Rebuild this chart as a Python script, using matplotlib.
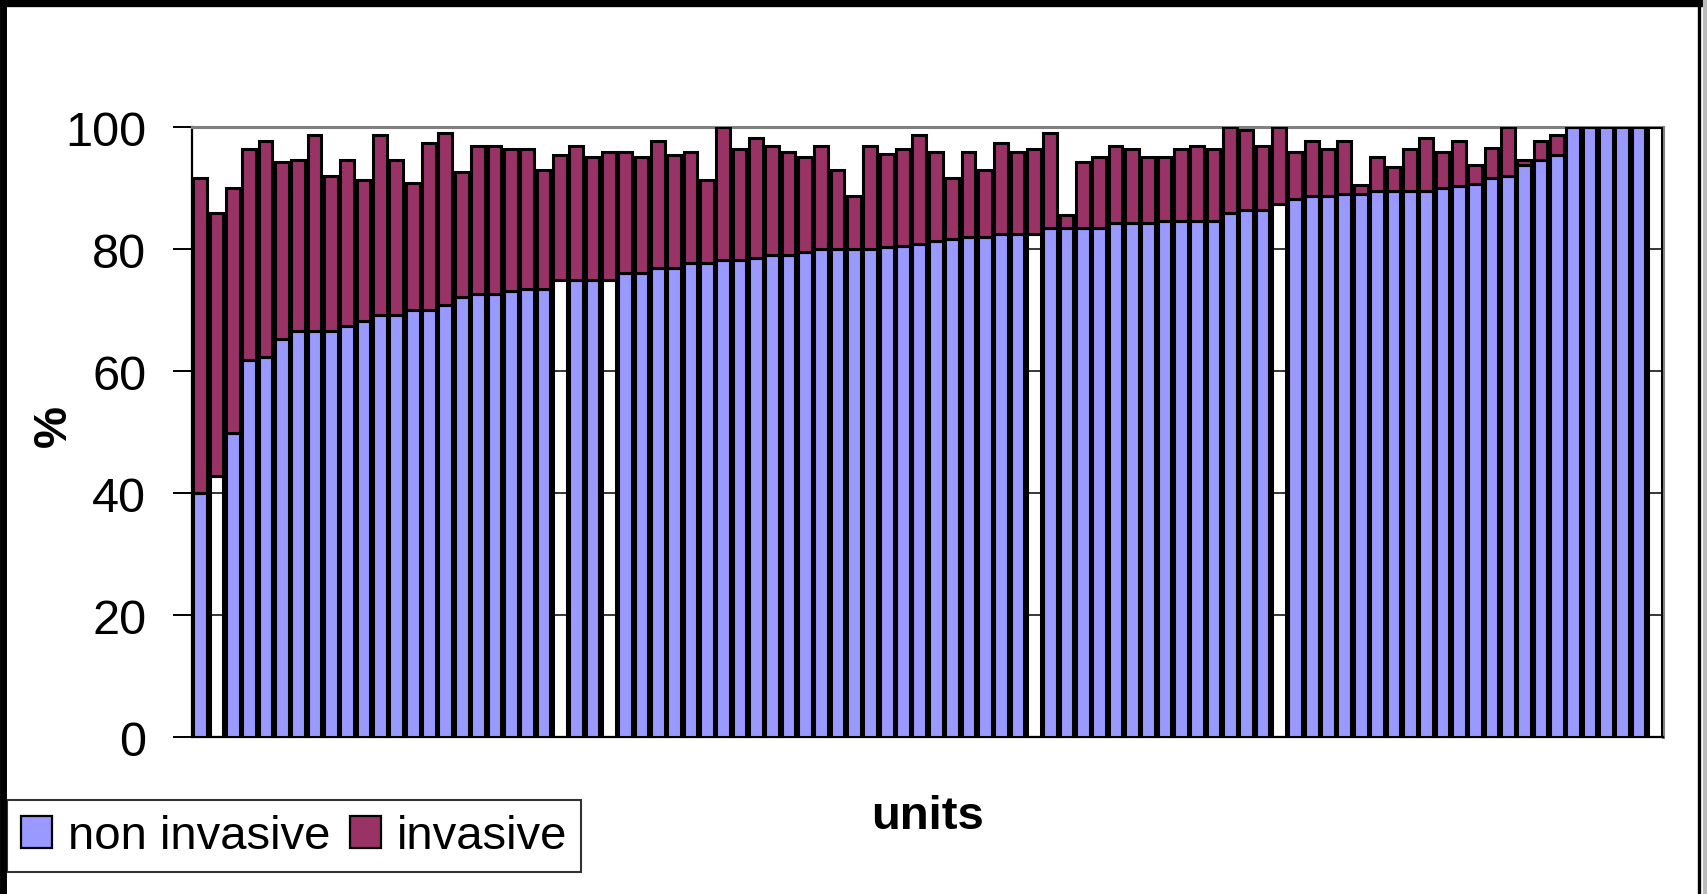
import numpy as np
import matplotlib
matplotlib.use("Agg")
import matplotlib.pyplot as plt
from matplotlib.lines import Line2D
from matplotlib.patches import Patch

plt.rcParams['font.family'] = ['Liberation Sans', 'DejaVu Sans']

# Share of patients per unit (%), sorted by non invasive share
units = np.arange(1, 91)
non_invasive = [40.0, 42.9, 49.9, 61.9, 62.3, 65.3, 66.7, 66.7, 66.7, 67.5,
                68.3, 69.3, 69.3, 70.1, 70.1, 70.9, 72.2, 72.7, 72.7, 73.2,
                73.5, 73.5, 74.9, 74.9, 74.9, 74.9, 76.1, 76.1, 77.0, 77.0,
                77.8, 77.8, 78.2, 78.2, 78.6, 79.0, 79.0, 79.5, 80.0, 80.0,
                80.0, 80.0, 80.4, 80.6, 80.9, 81.3, 81.7, 82.1, 82.1, 82.5,
                82.5, 82.5, 83.5, 83.5, 83.5, 83.5, 84.3, 84.3, 84.3, 84.6,
                84.6, 84.6, 84.6, 86.0, 86.5, 86.5, 87.5, 88.3, 88.7, 88.7,
                89.1, 89.1, 89.5, 89.5, 89.5, 89.5, 90.0, 90.4, 90.7, 91.7,
                92.1, 93.9, 94.6, 95.5, 100, 100, 100, 100, 100, 100]
invasive = [51.7, 43.1, 40.1, 34.6, 35.4, 29.0, 28.0, 32.0, 25.4, 27.2,
            23.0, 29.4, 25.4, 20.8, 27.3, 28.2, 20.4, 24.2, 24.2, 23.3,
            23.0, 19.5, 20.6, 22.0, 20.2, 21.1, 19.9, 19.0, 20.7, 18.5,
            18.2, 13.6, 21.8, 18.3, 19.6, 17.9, 17.0, 15.7, 16.9, 13.0,
            8.7, 16.9, 15.3, 15.9, 17.8, 14.7, 10.0, 13.9, 10.9, 14.9,
            13.5, 14.0, 15.6, 2.2, 10.9, 11.7, 12.6, 12.2, 10.8, 10.5,
            11.9, 12.3, 11.9, 14.0, 13.0, 10.4, 12.5, 7.7, 9.1, 7.8,
            8.6, 1.4, 5.6, 4.0, 7.0, 8.7, 6.0, 7.3, 3.2, 4.9,
            7.9, 0.8, 3.1, 3.2, 0, 0, 0, 0, 0, 0]
# units whose non invasive bar is left unfilled
unfilled_units = [2, 23, 26, 52, 67, 90]

blue = '#9999ff'
maroon = '#993366'

fig = plt.figure(figsize=(17.08, 8.95), dpi=100)
ax = fig.add_axes([0.1124, 0.1749, 0.8613, 0.6817])

x = np.arange(len(units))
face = ['none' if u in unfilled_units else blue for u in units]
ax.bar(x, non_invasive, width=0.84, color=face, edgecolor='black',
       linewidth=2.2, zorder=3)
ax.bar(x, invasive, bottom=non_invasive, width=0.84, color=maroon,
       edgecolor='black', linewidth=2.2, zorder=3)

ax.set_xlim(-0.5, len(units) - 0.5)
ax.set_ylim(0, 100)
ax.set_yticks(np.arange(0, 101, 20))
ax.set_xticks([])
ax.tick_params(axis='y', labelsize=35, length=14, width=1.4, pad=19,
               direction='out')
ax.yaxis.grid(True, color='black', linewidth=1.1, zorder=0)
ax.set_axisbelow(True)

ax.spines['left'].set_color('black')
ax.spines['left'].set_linewidth(1.6)
ax.spines['bottom'].set_color('black')
ax.spines['bottom'].set_linewidth(1.6)
ax.spines['top'].set_color('#808080')
ax.spines['top'].set_linewidth(2.2)
ax.spines['right'].set_color('#808080')
ax.spines['right'].set_linewidth(2.2)

fig.text(54 / 1708, 1 - 426 / 895, '%', rotation=90, fontsize=34,
         fontweight='bold', ha='center', va='center')
fig.text(928 / 1708, 1 - 817 / 895, 'units', fontsize=34,
         fontweight='bold', ha='center', va='center')

handles = [Patch(facecolor=blue, edgecolor='black', linewidth=1.6,
                 label='non invasive'),
           Patch(facecolor=maroon, edgecolor='black', linewidth=1.6,
                 label='invasive')]
leg = fig.legend(handles=handles, loc='upper left',
                 bbox_to_anchor=(7 / 1708, 1 - 801 / 895),
                 ncol=2, fontsize=34, frameon=True, fancybox=False,
                 borderaxespad=0, borderpad=0.3, handlelength=0.66,
                 handleheight=0.66, handletextpad=0.33, columnspacing=0.42)
leg.get_frame().set_edgecolor('black')
leg.get_frame().set_linewidth(1.5)

# outer frame around the chart
fig.add_artist(Line2D([0, 1], [1 - 4 / 895] * 2, color='black', lw=6))
fig.add_artist(Line2D([3.5 / 1708] * 2, [0, 1], color='black', lw=5))
fig.add_artist(Line2D([1699 / 1708] * 2, [0, 1], color='black', lw=2.4))
fig.add_artist(Line2D([1705 / 1708] * 2, [0, 1], color='#bbbbbb', lw=3))

fig.savefig('out.png', dpi=100)
